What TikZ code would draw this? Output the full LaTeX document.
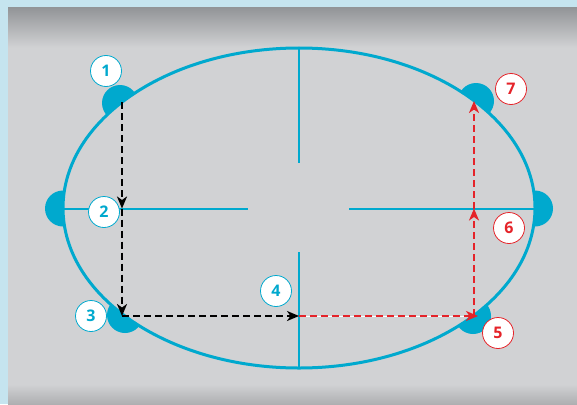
\documentclass[tikz,border=0pt]{standalone}
\usepackage{fontspec}
\setmainfont{Open Sans}
\usetikzlibrary{arrows.meta}
\definecolor{frameblue}{HTML}{C5E4EF}
\definecolor{topgray}{HTML}{939598}
\definecolor{midgray}{HTML}{D1D2D4}
\definecolor{botgray}{HTML}{AEAFB1}
\definecolor{cyanb}{HTML}{00A9CE}
\definecolor{redc}{HTML}{E52329}
\pgfdeclareverticalshading{panel}{100bp}{color(0bp)=(botgray); color(25bp)=(botgray); color(27.5bp)=(midgray); color(70bp)=(midgray); color(75bp)=(topgray); color(100bp)=(topgray)}
\begin{document}
\begin{tikzpicture}[x=1pt,y=-1pt,
  bluel/.style={cyanb, line width=2pt},
  ell/.style={cyanb, line width=3pt},
  bump/.style={fill=cyanb},
  blk/.style={black, line width=2.5pt, dash pattern=on 7pt off 4pt, -{Stealth[length=12pt,width=10pt,inset=3.5pt]}},
  rdd/.style={redc, line width=2.5pt, dash pattern=on 7pt off 4pt, -{Stealth[length=12pt,width=10pt,inset=3.5pt]}},
  numb/.style={circle, draw=cyanb, line width=0.8pt, fill=white, minimum size=31pt, inner sep=0pt, text=cyanb, font=\bfseries\fontsize{16}{16}\selectfont},
  numr/.style={numb, draw=redc, text=redc}]
\useasboundingbox (0,0) rectangle (577,404);
\fill[frameblue] (0,0) rectangle (577,404);
\shade[shading=panel] (8,8) rectangle (577,404);
% points
\coordinate (c) at (299,208);
\coordinate (p1) at (122,102);
\coordinate (m2) at (122,208.5);
\coordinate (p3) at (122,316);
\coordinate (p4) at (299,316);
\coordinate (p5) at (474,316);
\coordinate (m6) at (474,208.5);
\coordinate (p7) at (474,101);
% bumps outside ellipse
\begin{scope}[even odd rule]
\clip (0,0) rectangle (577,404) (c) ellipse [x radius=236, y radius=160];
\fill[bump] (63,208.5) circle (18);
\fill[bump] (535,208.5) circle (18);
\fill[bump] (120,103) circle (18);
\fill[bump] (125,315) circle (18);
\fill[bump] (476,101) circle (18);
\fill[bump] (473,316) circle (18);
\end{scope}
% ellipse and cross
\draw[ell] (c) ellipse [x radius=236, y radius=160];
\draw[bluel] (299,48) -- (299,163);
\draw[bluel] (299,252) -- (299,368);
\draw[bluel] (63,208.5) -- (248,208.5);
\draw[bluel] (349,208.5) -- (535,208.5);
% paths
\draw[blk] (p1) -- (m2);
\draw[blk] (m2) -- (p3);
\draw[blk] (p3) -- (p4);
\draw[white, line width=1pt] (p4) -- (p5);
\draw[rdd] (p4) -- ([xshift=4pt]p5);
\draw[rdd] (p5) -- (m6);
\draw[rdd] (m6) -- (p7);
% labels
\node[numb] (n1) at (106,71) {1};
\node[numb] (n2) at (104,212) {2};
\node[numb] (n3) at (91,316) {3};
\node[numb] (n4) at (276,291) {4};
\node[numr] (n5) at (498,333) {5};
\node[numr] (n6) at (509,228) {6};
\node[numr] (n7) at (511,89) {7};
\end{tikzpicture}
\end{document}
